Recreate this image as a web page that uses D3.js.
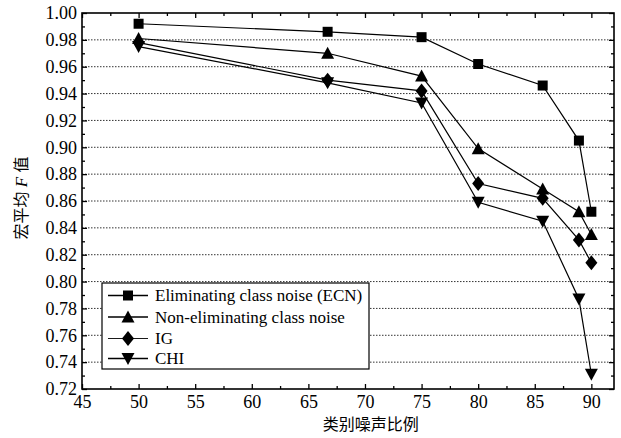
<!DOCTYPE html>
<html>
<head>
<meta charset="utf-8">
<script src="https://cdn.jsdelivr.net/npm/d3@7"></script>
<style>
  body { margin: 0; background: #fff; }
  svg { display: block; }
  .axis text { font-family: "Liberation Serif", "Times New Roman", serif; font-size: 18px; fill: #000; }
  .axis path, .axis line { stroke: #000; }
</style>
</head>
<body>
<div id="chart"></div>
<script>
// dados
const noiseRatio = [50, 66.7, 75, 80, 85.7, 88.9, 90];
const ecn = [0.992, 0.986, 0.982, 0.962, 0.946, 0.905, 0.852];
const nonElim = [0.981, 0.970, 0.953, 0.899, 0.869, 0.852, 0.835];
const ig = [0.978, 0.950, 0.942, 0.873, 0.862, 0.831, 0.814];
const chi = [0.975, 0.948, 0.933, 0.859, 0.845, 0.787, 0.731];

const seriesNames = ["Eliminating class noise (ECN)", "Non-eliminating class noise", "IG", "CHI"];
const seriesShapes = ["square", "triangle", "diamond", "down"];

const xTicks = [45, 50, 55, 60, 65, 70, 75, 80, 85, 90];
const xMinor = [47.5, 52.5, 57.5, 62.5, 67.5, 72.5, 77.5, 82.5, 87.5];
const yTicks = [0.72, 0.74, 0.76, 0.78, 0.80, 0.82, 0.84, 0.86, 0.88, 0.90, 0.92, 0.94, 0.96, 0.98, 1.00];
const yMinor = [0.73, 0.75, 0.77, 0.79, 0.81, 0.83, 0.85, 0.87, 0.89, 0.91, 0.93, 0.95, 0.97, 0.99];

const xTitle = "类别噪声比例";

// dimensões
const W = 621, H = 438;
const margin = { top: 13, right: 7, bottom: 49, left: 82 };
const width = W - margin.left - margin.right;
const height = H - margin.top - margin.bottom;

const x = d3.scaleLinear().domain([45, 92]).range([0, width]);
const y = d3.scaleLinear().domain([0.72, 1.00]).range([height, 0]);

const svg = d3.select("#chart").append("svg")
  .attr("width", W)
  .attr("height", H);

const g = svg.append("g")
  .attr("transform", `translate(${margin.left},${margin.top})`);

// linhas de grade pontilhadas
g.append("g")
  .selectAll("line")
  .data(yTicks.filter(d => d > 0.725 && d < 0.995))
  .join("line")
  .attr("x1", 0)
  .attr("x2", width)
  .attr("y1", d => y(d))
  .attr("y2", d => y(d))
  .attr("stroke", "#333")
  .attr("stroke-width", 1)
  .attr("stroke-dasharray", "1.5,1.5");

// eixos
function fmtY(d) { return d.toFixed(2); }

g.append("g").attr("class", "axis")
  .attr("transform", `translate(0,${height})`)
  .call(d3.axisBottom(x).tickValues(xTicks).tickSize(-5).tickPadding(6).tickFormat(d3.format("d")));
g.append("g").attr("class", "axis")
  .attr("transform", `translate(0,${height})`)
  .call(d3.axisBottom(x).tickValues(xMinor).tickSize(-3).tickFormat(""));
g.append("g").attr("class", "axis")
  .call(d3.axisTop(x).tickValues(xTicks).tickSize(-5).tickFormat(""));
g.append("g").attr("class", "axis")
  .call(d3.axisTop(x).tickValues(xMinor).tickSize(-3).tickFormat(""));

g.append("g").attr("class", "axis")
  .call(d3.axisLeft(y).tickValues(yTicks).tickSize(-5).tickPadding(5).tickFormat(fmtY));
g.append("g").attr("class", "axis")
  .call(d3.axisLeft(y).tickValues(yMinor).tickSize(-3).tickFormat(""));
g.append("g").attr("class", "axis")
  .attr("transform", `translate(${width},0)`)
  .call(d3.axisRight(y).tickValues(yTicks).tickSize(-5).tickFormat(""));
g.append("g").attr("class", "axis")
  .attr("transform", `translate(${width},0)`)
  .call(d3.axisRight(y).tickValues(yMinor).tickSize(-3).tickFormat(""));

g.selectAll(".axis .domain").remove();
g.selectAll(".axis line").attr("stroke-width", 1.3);

// moldura
g.append("rect")
  .attr("width", width)
  .attr("height", height)
  .attr("fill", "none")
  .attr("stroke", "#000")
  .attr("stroke-width", 1.6);

// marcadores
function markerPath(shape) {
  if (shape === "square") return "M-5,-5H5V5H-5Z";
  if (shape === "triangle") return "M0,-6.5L6.5,5.5L-6.5,5.5Z";
  if (shape === "down") return "M0,6.5L6.5,-5.5L-6.5,-5.5Z";
  return "M0,-7.5L6,0L0,7.5L-6,0Z";
}

const allSeries = [ecn, nonElim, ig, chi];
const data = allSeries.map((vals, i) => ({
  name: seriesNames[i],
  shape: seriesShapes[i],
  points: noiseRatio.map((r, j) => ({ r: r, v: vals[j] }))
}));

const line = d3.line()
  .x(d => x(d.r))
  .y(d => y(d.v));

// ordem de desenho: IG por cima
const drawOrder = [0, 1, 3, 2];
drawOrder.forEach(i => {
  const s = data[i];
  g.append("path")
    .datum(s.points)
    .attr("fill", "none")
    .attr("stroke", "#000")
    .attr("stroke-width", 1.2)
    .attr("d", line);
});
drawOrder.forEach(i => {
  const s = data[i];
  g.append("g")
    .selectAll("path")
    .data(s.points)
    .join("path")
    .attr("transform", d => `translate(${x(d.r)},${y(d.v)})`)
    .attr("d", markerPath(s.shape))
    .attr("fill", "#000");
});

// legenda
const legend = svg.append("g").attr("transform", "translate(102,283)");
legend.append("rect")
  .attr("width", 267)
  .attr("height", 86)
  .attr("fill", "#fff")
  .attr("stroke", "#000")
  .attr("stroke-width", 1.2);

const rowY = [12.5, 34, 55.5, 75.5];
data.forEach((s, i) => {
  const row = legend.append("g").attr("transform", `translate(0,${rowY[i]})`);
  row.append("line")
    .attr("x1", 6).attr("x2", 46)
    .attr("stroke", "#000")
    .attr("stroke-width", s.shape === "diamond" ? 0.9 : 1.3);
  row.append("path")
    .attr("transform", "translate(26,0)")
    .attr("d", markerPath(s.shape))
    .attr("fill", "#000");
  row.append("text")
    .attr("x", 53)
    .attr("y", 0)
    .attr("dy", "0.35em")
    .style("font-family", "'Liberation Serif', 'Times New Roman', serif")
    .style("font-size", "17px")
    .text(s.name);
});

// títulos dos eixos
svg.append("text")
  .attr("x", margin.left + x(70.5))
  .attr("y", 430)
  .attr("text-anchor", "middle")
  .style("font-family", "'Noto Sans CJK SC', sans-serif")
  .style("font-size", "16px")
  .text(xTitle);

const yLab = svg.append("text")
  .attr("transform", "translate(27,198) rotate(-90)")
  .attr("text-anchor", "middle")
  .style("font-family", "'Noto Sans CJK SC', sans-serif")
  .style("font-size", "16px");
yLab.append("tspan").text("宏平均");
yLab.append("tspan")
  .style("font-family", "'Liberation Serif', serif")
  .style("font-style", "italic")
  .style("font-size", "17px")
  .text(" F ");
yLab.append("tspan").text("值");
</script>
</body>
</html>
